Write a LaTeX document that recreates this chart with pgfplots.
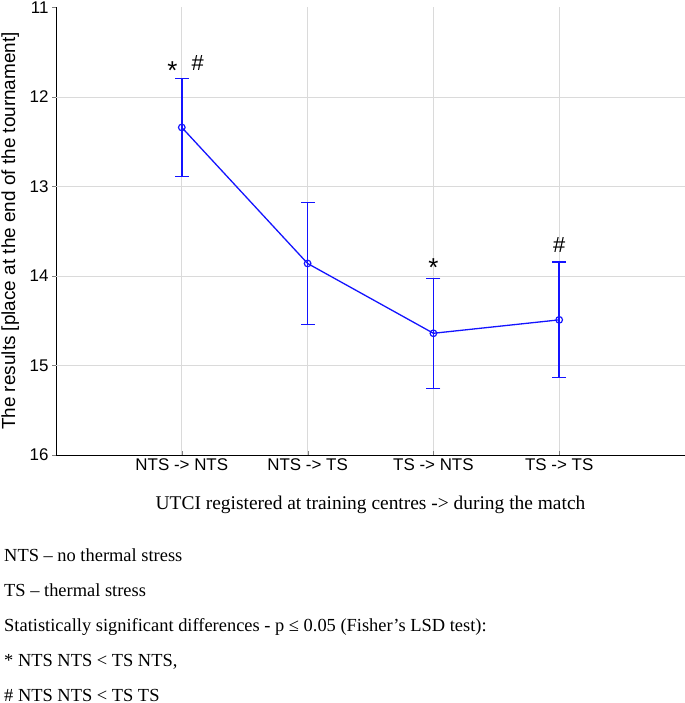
\documentclass[border=0pt]{standalone}
\usepackage{fontspec}
\setmainfont{Liberation Serif}
\newfontfamily\arial{Liberation Sans}
\usepackage{pgfplots}
\usepackage{pgfplotstable}
\pgfplotsset{compat=1.18}

% mean place per UTCI group
\pgfplotstableread{
x   y
0   12.34
1   13.86
2   14.64
3   14.49
}\results

% error bar ends (low / high place), nan splits the bars
\pgfplotstableread{
x    y
0    11.795
0    12.885
nan  nan
1    13.18
1    14.54
nan  nan
2    14.025
2    15.255
nan  nan
3    13.845
3    15.135
}\bars

\definecolor{lineblue}{RGB}{20,20,255}
\definecolor{gridgray}{RGB}{218,218,218}

\begin{document}
\begin{tikzpicture}[x=1bp,y=1bp]
    \useasboundingbox (0,0) rectangle (685,703);
    \begin{axis}[
        at={(56bp,248bp)}, anchor=south west,
        scale only axis, width=629bp, height=447.5bp,
        xmin=-1, xmax=4,
        ymin=11, ymax=16, y dir=reverse,
        axis x line*=bottom, axis y line*=left,
        axis line style={-, black, line width=0.9bp},
        xtick={0,1,2,3},
        xticklabels={NTS -> NTS, NTS -> TS, TS -> NTS, TS -> TS},
        ytick={11,...,16},
        xmajorgrids,
        extra y ticks={12,13,14,15},
        extra y tick labels={},
        extra y tick style={grid=major, major tick length=0pt},
        grid style={gridgray, line width=0.9bp},
        major tick length=4bp,
        xtick align=inside, ytick align=outside,
        tick label style={font=\arial\fontsize{17}{17}\selectfont},
        /pgf/number format/assume math mode=true,
        unbounded coords=jump,
        clip=false,
    ]
        % error bars with caps
        \addplot[color=lineblue, line width=1.6bp, mark=-, mark size=7bp,
            mark options={solid, line width=1.4bp}]
            table[x=x, y=y] {\bars};

        % means
        \addplot[color=lineblue, line width=1.3bp, mark=o, mark size=3.3bp,
            mark options={solid, line width=1.2bp}]
            table[x=x, y=y] {\results};

        % significance markers
        \node[anchor=base, font=\arial\fontsize{26}{26}\selectfont] at (axis cs:-0.074,11.80) {*};
        \node[anchor=base, font=\arial\fontsize{22}{22}\selectfont] at (axis cs:0.127,11.70) {\#};
        \node[anchor=base, font=\arial\fontsize{26}{26}\selectfont] at (axis cs:2,14.01) {*};
        \node[anchor=base, font=\arial\fontsize{22}{22}\selectfont] at (axis cs:3,13.74) {\#};
    \end{axis}

    % axis titles
    \node[anchor=base, rotate=90, font=\arial\fontsize{19}{19}\selectfont]
        at (15,472) {The results [place at the end of the tournament]};
    \node[anchor=base, font=\fontsize{19.5}{19.5}\selectfont]
        at (370.5,193) {UTCI registered at training centres -> during the match};

    % notes
    \begin{scope}[every node/.style={anchor=base west, inner sep=0pt,
            font=\fontsize{18.5}{18.5}\selectfont}]
        \node at (4,141) {NTS – no thermal stress};
        \node at (4,106) {TS – thermal stress};
        \node at (4,71) {Statistically significant differences - p ≤ 0.05 (Fisher’s LSD test):};
        \node at (4,36) {* NTS NTS < TS NTS,};
        \node at (4,1) {\# NTS NTS < TS TS};
    \end{scope}
\end{tikzpicture}
\end{document}
